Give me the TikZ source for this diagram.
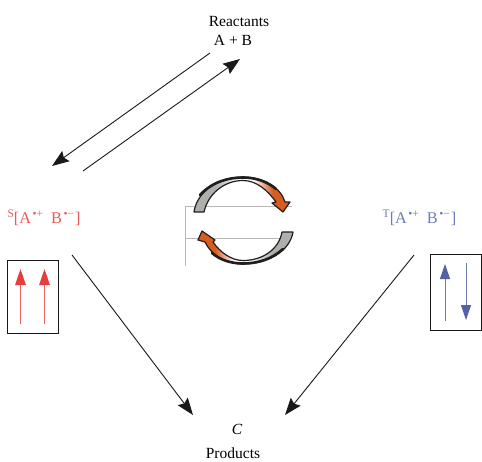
\documentclass[tikz,border=0pt]{standalone}
\usepackage{fontspec}
\setmainfont{Liberation Serif}
\usetikzlibrary{arrows.meta}
\definecolor{spinred}{RGB}{232,62,58}
\definecolor{labred}{RGB}{232,90,85}
\definecolor{spinblue}{RGB}{84,98,165}
\definecolor{labblue}{RGB}{110,125,185}
\definecolor{turnorange}{RGB}{214,92,34}
\definecolor{turngray}{RGB}{175,175,172}
\pgfdeclarehorizontalshading{turnfwd}{100bp}{color(0bp)=(turngray); color(25bp)=(turngray); color(36bp)=(turngray); color(48bp)=(white); color(56bp)=(white); color(66bp)=(turnorange); color(75bp)=(turnorange); color(100bp)=(turnorange)}
\pgfdeclarehorizontalshading{turnbwd}{100bp}{color(0bp)=(turnorange); color(25bp)=(turnorange); color(34bp)=(turnorange); color(44bp)=(white); color(52bp)=(white); color(64bp)=(turngray); color(75bp)=(turngray); color(100bp)=(turngray)}
\newcommand{\smallup}[1]{\raisebox{.36em}{\fontsize{11.5}{11.5}\selectfont #1}}
\newcommand{\radpair}{[A\kern1.5pt\smallup{•+}\kern8pt B\kern1.5pt\smallup{•−}\kern1pt]}
\tikzset{
  x=1pt,y=-1pt,
  lab/.style={inner sep=0pt,font=\fontsize{15.5}{18}\selectfont,text=black},
  statelab/.style={inner sep=0pt,font=\fontsize{16.3}{18}\selectfont},
  flow/.style={draw=black!90,line width=.9pt,-{Stealth[length=17pt,width=12.5pt,inset=2.5pt]}},
  spinbox/.style={draw=black!90,line width=1pt,fill=white,inner sep=0pt},
  spinred arrow/.style={draw=spinred!80,line width=.9pt,-{Triangle[length=16pt,width=10.5pt,color=spinred]}},
  spinblue arrow/.style={draw=spinblue!85,line width=.9pt,-{Triangle[length=15pt,width=10pt,color=spinblue]}},
  guide/.style={draw=black!28,line width=.5pt},
  turn/.style={draw=black!88,line width=1.2pt,line join=round},
  rim/.style={draw=black!88,line width=2.6pt,line cap=round},
}
\begin{document}
\begin{tikzpicture}
\useasboundingbox (0,0) rectangle (482,461);
% labels
\node[lab] (reactants) at (239,21) {Reactants};
\node[lab] (ab) at (233,40) {A + B};
\node[lab] (c) at (237,429) {\textit{C}};
\node[lab] (products) at (233,453.5) {Products};
\node[statelab,text=labred] (singlet) at (44,218) {\smallup{S}\radpair};
\node[statelab,text=labblue] (triplet) at (419.5,218) {\smallup{T}\radpair};
% connector ends
\coordinate (r1) at (210,53);
\coordinate (s1) at (52,166);
\coordinate (s2) at (83,171);
\coordinate (r2) at (240,59);
\coordinate (s3) at (72,255);
\coordinate (p1) at (193,415);
\coordinate (t3) at (414,255);
\coordinate (p2) at (285,415);
\draw[flow] (r1) -- (s1);
\draw[flow] (s2) -- (r2);
\draw[flow] (s3) -- (p1);
\draw[flow] (t3) -- (p2);
% spin boxes
\node[spinbox,minimum width=50.5pt,minimum height=73pt] (boxs) at (33.2,296.5) {};
\node[spinbox,minimum width=51pt,minimum height=75.5pt] (boxt) at (455.5,292.5) {};
\coordinate (sa1) at (20.5,324); \coordinate (sa1t) at (20.5,269);
\coordinate (sa2) at (44.5,324); \coordinate (sa2t) at (44.5,269);
\coordinate (ta1) at (445,321); \coordinate (ta1t) at (445,264);
\coordinate (ta2) at (466,263); \coordinate (ta2t) at (466,320);
\draw[spinred arrow] (sa1) -- (sa1t);
\draw[spinred arrow] (sa2) -- (sa2t);
\draw[spinblue arrow] (ta1) -- (ta1t);
\draw[spinblue arrow] (ta2) -- (ta2t);
% guide lines
\draw[guide] (185,266) -- (185,206) -- (292,206);
\draw[guide] (185,238) -- (290,238);
% cycle arrows
\path[turn,shading=turnfwd]
  (194,212) .. controls (197,191) and (219,177) .. (243,177)
  .. controls (264,177) and (281,188) .. (285,202)
  -- (290,202) -- (283,212) -- (272,203) -- (276,202)
  .. controls (268,191) and (257,180.5) .. (243,180.5)
  .. controls (224,180.5) and (208,194) .. (204,212) -- cycle;
\draw[rim] (200,195) .. controls (212,182) and (228,177.5) .. (243,177.5)
  .. controls (256,177.5) and (268,182) .. (276,189);
\path[turn,shading=turnbwd]
  (293,232) .. controls (290,251) and (268,264) .. (243,264)
  .. controls (226,264) and (211,255) .. (205,242)
  -- (198,240) -- (202,231) -- (215,240) -- (213,242)
  .. controls (220,252) and (231,260.5) .. (243,260.5)
  .. controls (263,260.5) and (279,249) .. (282,232) -- cycle;
\draw[rim] (212,253) .. controls (220,260) and (231,263.5) .. (243,263.5)
  .. controls (258,263.5) and (272,259) .. (283,249);
\end{tikzpicture}
\end{document}
